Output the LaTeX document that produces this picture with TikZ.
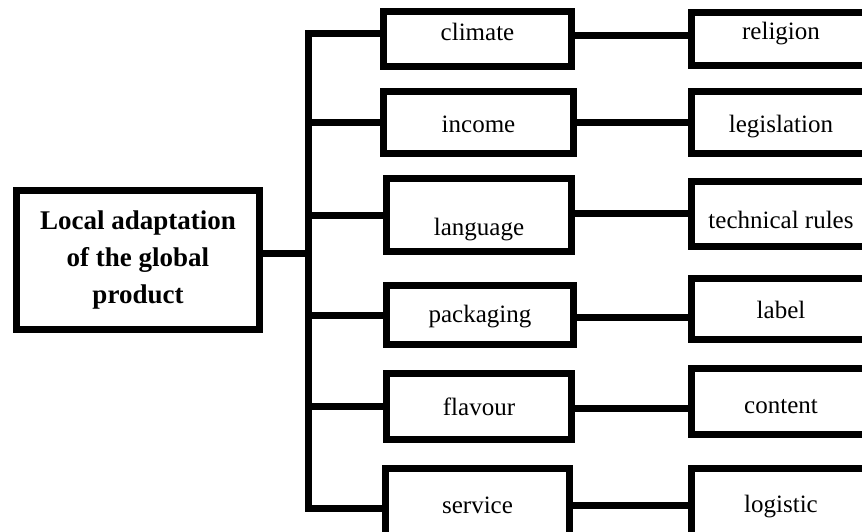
\documentclass[tikz,border=0pt]{standalone}
\usepackage{fontspec}
\setmainfont{Liberation Serif}
\begin{document}
\begin{tikzpicture}[x=1pt,y=-1pt,line width=7pt,
		frame/.style={draw,rectangle,inner sep=0pt},
		item/.style={frame,text height=18pt,text depth=0pt,font=\fontsize{25}{30}\selectfont}]
		
		%%Location
		\path[use as bounding box,clip] (0,0) rectangle (862,531);
		
		%%Main box
		\node[frame,minimum width=243pt,minimum height=139pt,align=center,
			font=\fontsize{27}{37}\selectfont\bfseries] (main) at (138,260)
			{Local adaptation\\of the global\\product};
		
		%%Factors
		\node[item,minimum width=188pt,minimum height=55pt,text height=3pt] (climate) at (477.5,38.5) {climate};
		\node[item,minimum width=190pt,minimum height=62pt,text height=19pt] (income) at (478.5,122.5) {income};
		\node[item,minimum width=185pt,minimum height=73pt,text height=40pt] (language) at (479,215) {language};
		\node[item,minimum width=187pt,minimum height=59pt,text height=14pt] (packaging) at (480,315) {packaging};
		\node[item,minimum width=185pt,minimum height=66pt,text height=17pt] (flavour) at (479,406.5) {flavour};
		\node[item,minimum width=184pt,minimum height=70pt,text height=19pt] (service) at (477.5,503.5) {service};
		
		%%Constraints
		\node[item,minimum width=180pt,minimum height=53pt,text height=1pt] (religion) at (781,38.5) {religion};
		\node[item,minimum width=180pt,minimum height=62pt,text height=19pt] (legislation) at (781,122.5) {legislation};
		\node[item,minimum width=180pt,minimum height=65pt,text height=28pt] (rules) at (781,214) {technical rules};
		\node[item,minimum width=180pt,minimum height=61pt,text height=18pt] (label) at (781,309) {label};
		\node[item,minimum width=180pt,minimum height=66pt,text height=23pt] (content) at (781,401.5) {content};
		\node[item,minimum width=180pt,minimum height=70pt,text height=17pt] (logistic) at (781,503.5) {logistic};
		
		%%Trunk
		\coordinate (top) at (308,33);
		\coordinate (bot) at (308,508);
		\draw (top -| climate.west) -- (top) -- (bot) -- (bot -| service.west);
		\draw ([yshift=7pt]main.east) -- ([yshift=7pt]main.east -| top);
		\draw (income.west -| top) -- (income.west);
		\draw (language.west -| top) -- (language.west);
		\draw (packaging.west -| top) -- (packaging.west);
		\draw (flavour.west -| top) -- (flavour.west);
		
		%%Links
		\draw ([yshift=3pt]climate.east) -- ([yshift=3pt]climate.east -| religion.west);
		\draw (income.east) -- (income.east -| legislation.west);
		\draw ([yshift=2pt]language.east) -- ([yshift=2pt]language.east -| rules.west);
		\draw ([yshift=-2pt]packaging.east) -- ([yshift=-2pt]packaging.east -| label.west);
		\draw ([yshift=-1.5pt]flavour.east) -- ([yshift=-1.5pt]flavour.east -| content.west);
		\draw ([yshift=-1.5pt]service.east) -- ([yshift=-1.5pt]service.east -| logistic.west);
		
\end{tikzpicture}
\end{document}
